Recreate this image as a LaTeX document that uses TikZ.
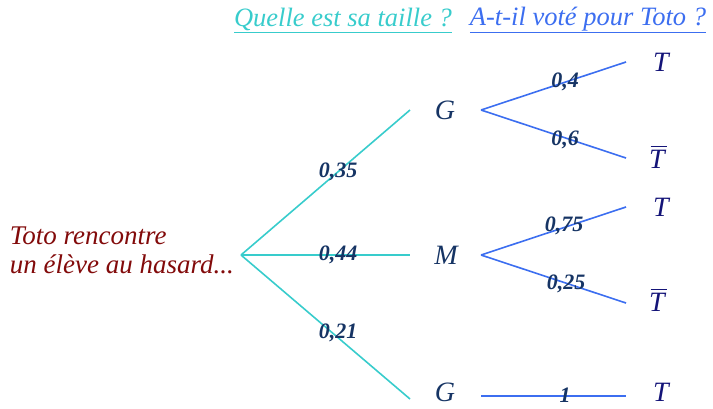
\documentclass[tikz,border=0pt]{standalone}
\usepackage{fontspec}
\setmainfont{Liberation Serif}
\newcommand{\barT}{\leavevmode\rlap{\kern1.5pt\raisebox{21pt}{\rule{16pt}{1.3pt}}}T}
\begin{document}
\begin{tikzpicture}[x=1pt,y=-1pt,
  cyanline/.style={draw=tealc,line width=1.6pt},
  blueline/.style={draw=bluec,line width=1.6pt},
  lev/.style={font=\fontsize{28}{30}\selectfont\itshape,text=navyc,inner sep=0pt},
  leaf/.style={font=\fontsize{28}{30}\selectfont\itshape,text=leafc,inner sep=0pt},
  prob/.style={font=\fontsize{22}{24}\selectfont\itshape\bfseries,text=navyc,inner sep=0pt},
  head/.style={font=\fontsize{26.5}{30}\selectfont\itshape,inner sep=0pt}]
\definecolor{tealc}{RGB}{56,204,204}
\definecolor{bluec}{RGB}{60,110,240}
\definecolor{navyc}{RGB}{22,52,100}
\definecolor{leafc}{RGB}{20,20,120}
\definecolor{redc}{RGB}{130,10,10}
\useasboundingbox (0,0) rectangle (713,408);
% headers
\node[head,text=tealc] (h1) at (343,20) {\underline{Quelle est sa taille ?}};
\node[head,text=bluec] (h2) at (588,20) {\underline{A-t-il voté pour Toto ?}};
% root
\node[font=\fontsize{27}{29}\selectfont\itshape,text=redc,align=left,anchor=east,inner sep=0pt] (txt) at (234,250) {Toto rencontre\\un élève au hasard...};
\coordinate (r) at (241,255);
\coordinate (e1) at (410,110);
\coordinate (e2) at (410,255);
\coordinate (e3) at (410,399);
\node[lev] (G1) at (445,110) {G};
\node[lev] (M) at (446,255) {M};
\node[lev] (G2) at (445,392) {G};
\draw[cyanline] (r) -- (e1);
\draw[cyanline] (r) -- (e2);
\draw[cyanline] (r) -- (e3);
\node[prob] (p1) at (338,172) {0,35};
\node[prob] (p2) at (338,255) {0,44};
\node[prob] (p3) at (338,333) {0,21};
% second level
\coordinate (s1) at (481,110);
\coordinate (s2) at (481,255);
\coordinate (s3) at (481,396);
\coordinate (t1) at (626,62);
\coordinate (t2) at (626,158);
\coordinate (t3) at (626,207);
\coordinate (t4) at (626,303);
\coordinate (t5) at (626,396);
\draw[blueline] (s1) -- (t1);
\draw[blueline] (s1) -- (t2);
\draw[blueline] (s2) -- (t3);
\draw[blueline] (s2) -- (t4);
\draw[blueline] (s3) -- (t5);
\node[leaf] (T1) at (661,62) {T};
\node[leaf] (T2) at (657,157) {\barT};
\node[leaf] (T3) at (661,207) {T};
\node[leaf] (T4) at (657,300) {\barT};
\node[leaf] (T5) at (661,392) {T};
\node[prob] (q1) at (565,82) {0,4};
\node[prob] (q2) at (565,140) {0,6};
\node[prob] (q3) at (564,226) {0,75};
\node[prob] (q4) at (566,284) {0,25};
\node[prob] (q5) at (565,395) {1};
\end{tikzpicture}
\end{document}
